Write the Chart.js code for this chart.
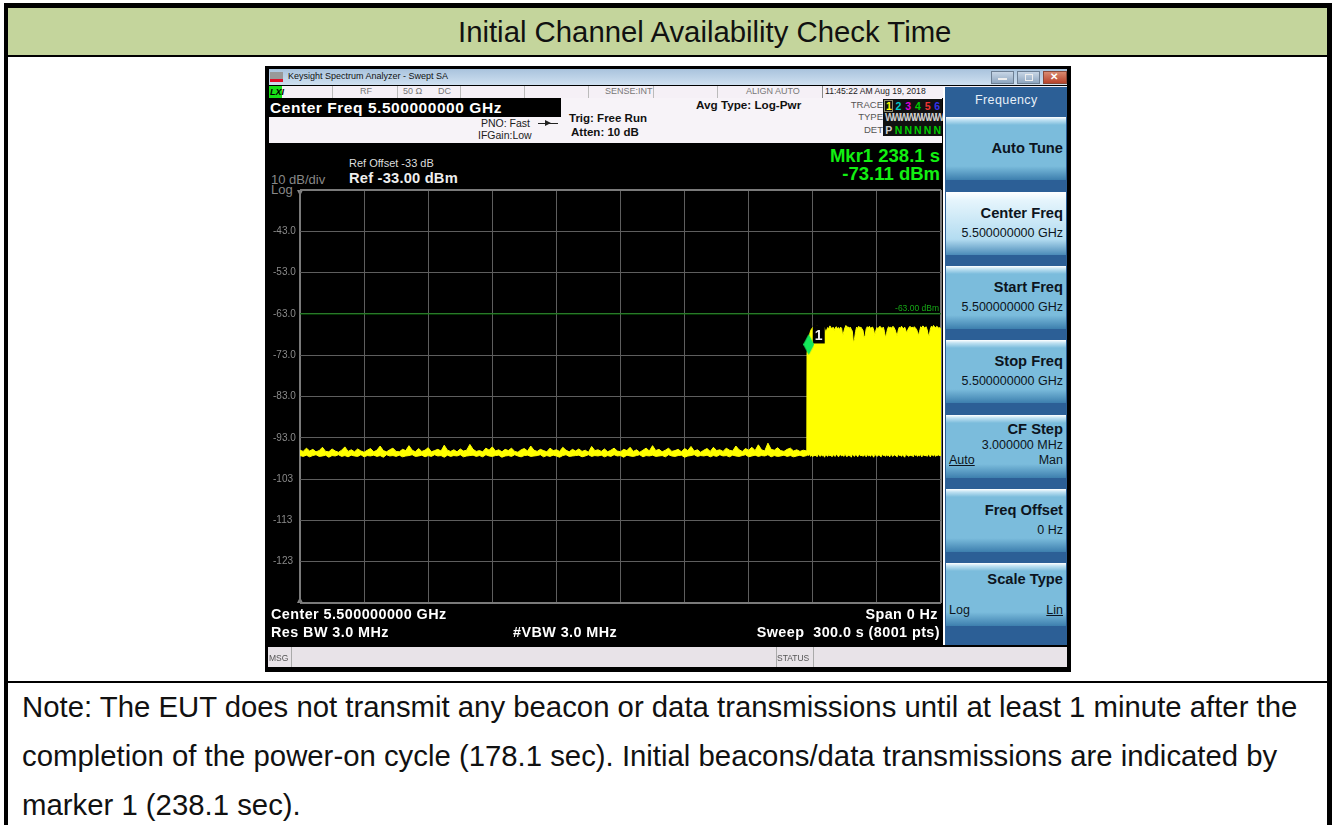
<!DOCTYPE html>
<html>
<head>
<meta charset="utf-8">
<title>Initial Channel Availability Check Time</title>
<script src="https://cdn.jsdelivr.net/npm/chart.js@4/dist/chart.umd.min.js"></script>
<style>
    html, body { margin: 0; padding: 0; background: #fff; }
    body { position: relative; width: 1335px; height: 825px; overflow: hidden; font-family: "Liberation Sans", Arial, sans-serif; }
    .box, .t { position: absolute; }
    .t { white-space: nowrap; line-height: 1; }
    .w { color: #fff; font-weight: bold; }
    .d { color: #111; font-weight: bold; }
    .g { color: #777; }
    .sc { font-size: 14.4px; letter-spacing: 0.42px; }
    .col span { display: inline-block; width: 9.7px; text-align: center; }
    .key { position: absolute; left: 946px; width: 120px; height: 63px; background: linear-gradient(#ffffff 0, #bfe1f2 3px, #7bbcdc 8px, #7bbcdc 78%, #3d7fae 100%); }
    .key.on { background: linear-gradient(#ffffff 0, #e6f5fc 8px, #b3dcf1 75%, #4b8bb8 100%); }
    .key b { position: absolute; right: 3px; top: 24px; font-size: 14.7px; color: #0c1420; white-space: nowrap; line-height: 1; }
    .key span { position: absolute; right: 3px; font-size: 12.5px; color: #0c1420; white-space: nowrap; line-height: 1; }
    #plotWrap { position: absolute; left: 268px; top: 180px; width: 680px; height: 435px; }
</style>
</head>
<body>
<!-- table around the capture -->
<div class="box" style="left:4px;top:3px;width:1328px;height:5px;background:#000"></div>
<div class="box" style="left:4px;top:3px;width:4px;height:822px;background:#000"></div>
<div class="box" style="left:1327px;top:3px;width:5px;height:822px;background:#000"></div>
<div class="box" style="left:8px;top:8px;width:1319px;height:47px;background:#c4d59c"></div>
<div class="box" style="left:4px;top:55px;width:1328px;height:2px;background:#000"></div>
<div class="box" style="left:4px;top:681px;width:1328px;height:2px;background:#000"></div>
<div class="t" style="left:458px;top:17px;font-size:29.33px;color:#111">Initial Channel Availability Check Time</div>
<div class="t" style="left:22px;top:692px;font-size:29.33px;color:#111">Note: The EUT does not transmit any beacon or data transmissions until at least 1 minute after the</div>
<div class="t" style="left:22px;top:741px;font-size:29.33px;color:#111">completion of the power-on cycle (178.1 sec). Initial beacons/data transmissions are indicated by</div>
<div class="t" style="left:22px;top:790px;font-size:29.33px;color:#111">marker 1 (238.1 sec).</div>

<!-- analyzer window -->
<div class="box" style="left:265px;top:66px;width:806px;height:606px;background:#000"></div>
<div class="box" style="left:269px;top:69px;width:798px;height:16px;background:linear-gradient(#a9c3dd,#cfe0f0)"></div>
<div class="box" style="left:270px;top:72px;width:13px;height:10px;background:linear-gradient(#999 0,#999 70%,#e0102a 70%)"></div>
<div class="t" style="left:288px;top:72px;font-size:9px;color:#111">Keysight Spectrum Analyzer - Swept SA</div>
<div class="box" style="left:991px;top:71px;width:23px;height:13px;background:linear-gradient(#c8d6e6,#8ea6c0);border:1px solid #6d7f94;box-sizing:border-box"></div>
<div class="box" style="left:998px;top:78px;width:9px;height:2px;background:#eee"></div>
<div class="box" style="left:1017px;top:71px;width:23px;height:13px;background:linear-gradient(#c8d6e6,#8ea6c0);border:1px solid #6d7f94;box-sizing:border-box"></div>
<div class="box" style="left:1025px;top:74px;width:6px;height:5px;border:1px solid #eee"></div>
<div class="box" style="left:1043px;top:71px;width:24px;height:13px;background:linear-gradient(#d98a70,#b8432c);border:1px solid #8b4a3a;box-sizing:border-box"></div>
<div class="t" style="left:1050px;top:72px;font-size:10px;font-weight:bold;color:#fff">✕</div>

<div class="box" style="left:269px;top:86px;width:798px;height:12px;background:#f5f0f6"></div>
<div class="box" style="left:269px;top:86px;width:13px;height:12px;background:#18e018"></div>
<div class="t" style="left:270px;top:88px;font-size:9px;font-weight:bold;font-style:italic;color:#000">LXI</div>
<div class="t g" style="left:360px;top:87px;font-size:9px">RF</div>
<div class="t g" style="left:403px;top:87px;font-size:9px">50 Ω</div>
<div class="t g" style="left:438px;top:87px;font-size:9px">DC</div>
<div class="t g" style="left:605px;top:87px;font-size:9px">SENSE:INT</div>
<div class="t g" style="left:746px;top:87px;font-size:9px">ALIGN AUTO</div>
<div class="t" style="left:825px;top:87px;font-size:8.6px;color:#222">11:45:22 AM Aug 19, 2018</div>
<div class="box" style="left:332px;top:86px;width:1px;height:12px;background:#bbb"></div>
<div class="box" style="left:397px;top:86px;width:1px;height:12px;background:#bbb"></div>
<div class="box" style="left:460px;top:86px;width:1px;height:12px;background:#bbb"></div>
<div class="box" style="left:524px;top:86px;width:1px;height:12px;background:#bbb"></div>
<div class="box" style="left:588px;top:86px;width:1px;height:12px;background:#bbb"></div>
<div class="box" style="left:653px;top:86px;width:1px;height:12px;background:#bbb"></div>
<div class="box" style="left:717px;top:86px;width:1px;height:12px;background:#bbb"></div>
<div class="box" style="left:822px;top:86px;width:1px;height:12px;background:#888"></div>

<div class="box" style="left:269px;top:98px;width:673px;height:45px;background:#f7f3f8"></div>
<div class="box" style="left:269px;top:98px;width:292px;height:19px;background:#000"></div>
<div class="t w" style="left:270px;top:100px;font-size:15.5px;letter-spacing:0.55px">Center Freq 5.500000000 GHz</div>
<div class="t" style="left:481px;top:118px;font-size:10.5px;color:#222">PNO: Fast</div>
<div class="t" style="left:478px;top:130px;font-size:10.5px;color:#222">IFGain:Low</div>
<div class="box" style="left:538px;top:123px;width:20px;height:1px;background:#222"></div>
<div class="box" style="left:545px;top:120px;border-left:6px solid #222;border-top:3px solid transparent;border-bottom:3px solid transparent"></div>
<div class="t d" style="left:569px;top:113px;font-size:11.5px">Trig: Free Run</div>
<div class="t d" style="left:571px;top:127px;font-size:11.5px">Atten: 10 dB</div>
<div class="t d" style="left:696px;top:99px;font-size:11.7px">Avg Type: Log-Pwr</div>
<div class="t" style="right:452px;top:100px;font-size:9.5px;color:#555">TRACE</div>
<div class="t" style="right:452px;top:112px;font-size:9.5px;color:#555">TYPE</div>
<div class="t" style="right:452px;top:125px;font-size:9.5px;color:#555">DET</div>
<div class="box" style="left:883px;top:99px;width:59px;height:37px;background:#111"></div>
<div class="box" style="left:884px;top:100px;width:9px;height:12px;border:1px solid #8a8a70;box-sizing:border-box"></div>
<div class="t col" style="left:884px;top:101px;font-size:10.5px;font-weight:bold"><span style="color:#ff0">1</span><span style="color:#0cc">2</span><span style="color:#d0d">3</span><span style="color:#0c0">4</span><span style="color:#e33">5</span><span style="color:#33e">6</span></div>
<div class="t" style="left:885px;top:113px;font-size:10px;font-weight:bold;color:#ccc;letter-spacing:-2.3px">WWWWWWWW</div>
<div class="t col" style="left:884px;top:125px;font-size:10.5px;font-weight:bold;color:#0c0"><span style="color:#ccc">P</span><span>N</span><span>N</span><span>N</span><span>N</span><span>N</span></div>

<div class="t" style="left:349px;top:158px;font-size:11px;color:#ddd">Ref Offset -33 dB</div>
<div class="t w" style="left:349px;top:171px;font-size:14.7px;letter-spacing:0.2px;color:#eee">Ref -33.00 dBm</div>
<div class="t" style="left:271px;top:173px;font-size:13px;color:#888">10 dB/div</div>
<div class="t" style="left:271px;top:183px;font-size:13px;color:#888">Log</div>
<div class="box" style="left:297px;top:190px;border-top:6px solid #888;border-left:3px solid transparent;border-right:3px solid transparent"></div>
<div class="box" style="left:297px;top:597px;border-bottom:6px solid #888;border-left:3px solid transparent;border-right:3px solid transparent"></div>
<div class="t" style="right:395px;top:147px;font-size:18.5px;font-weight:bold;color:#12f012">Mkr1 238.1 s</div>
<div class="t" style="right:395px;top:165px;font-size:18.5px;font-weight:bold;color:#12f012">-73.11 dBm</div>

<div id="plotWrap"><canvas id="scanChart" width="680" height="435"></canvas></div>

<div class="t w sc" style="left:271px;top:607px">Center 5.500000000 GHz</div>
<div class="t w sc" style="left:271px;top:625px">Res BW 3.0 MHz</div>
<div class="t w sc" style="left:513px;top:625px">#VBW 3.0 MHz</div>
<div class="t w sc" style="right:397px;top:607px">Span 0 Hz</div>
<div class="t w sc" style="right:395px;top:625px">Sweep &nbsp;300.0 s (8001 pts)</div>

<!-- softkeys -->
<div class="box" style="left:943px;top:87px;width:2px;height:558px;background:#fff"></div>
<div class="box" style="left:945px;top:87px;width:122px;height:558px;background:#2c5f96"></div>
<div class="t" style="left:975px;top:94px;font-size:12.5px;letter-spacing:0.4px;color:#e8f0f8">Frequency</div>
<div class="key" style="top:117px"><b>Auto Tune</b></div>
<div class="key on" style="top:192px"><b style="top:14px">Center Freq</b><span style="top:35px">5.500000000 GHz</span></div>
<div class="key" style="top:266px"><b style="top:14px">Start Freq</b><span style="top:35px">5.500000000 GHz</span></div>
<div class="key" style="top:340px"><b style="top:14px">Stop Freq</b><span style="top:35px">5.500000000 GHz</span></div>
<div class="key" style="top:415px"><b style="top:7px">CF Step</b><span style="top:24px">3.000000 MHz</span><span style="top:39px;left:3px;right:auto;text-decoration:underline">Auto</span><span style="top:39px">Man</span></div>
<div class="key" style="top:489px"><b style="top:14px">Freq Offset</b><span style="top:35px">0 Hz</span></div>
<div class="key" style="top:563px"><b style="top:9px">Scale Type</b><span style="top:41px;left:3px;right:auto">Log</span><span style="top:41px;text-decoration:underline">Lin</span></div>

<!-- message bar -->
<div class="box" style="left:268px;top:647px;width:799px;height:20px;background:#e8e3e8"></div>
<div class="box" style="left:291px;top:647px;width:1px;height:20px;background:#aaa"></div>
<div class="box" style="left:776px;top:647px;width:1px;height:20px;background:#aaa"></div>
<div class="box" style="left:813px;top:647px;width:1px;height:20px;background:#aaa"></div>
<div class="t" style="left:269px;top:654px;font-size:8.5px;color:#555">MSG</div>
<div class="t" style="left:777px;top:654px;font-size:8.5px;color:#555">STATUS</div>

<script>
    // y ticks of the screen, 10 dB/div down from the reference level
    const yTicks = [-33, -43, -53, -63, -73, -83, -93, -103, -113, -123, -133];
    const xTicks = [0, 30, 60, 90, 120, 150, 180, 210, 240, 270, 300];

    // noise floor before the first beacon (seconds, upper and lower edge of the trace in dBm)
    const noiseTimes = [0,1.5,3,4.5,6,7.5,9,10.5,12,13.5,15,16.5,18,19.5,21,22.5,24,25.5,27,28.5,
        30,31.5,33,34.5,36,37.5,39,40.5,42,43.5,45,46.5,48,49.5,51,52.5,54,55.5,57,58.5,
        60,61.5,63,64.5,66,67.5,69,70.5,72,73.5,75,76.5,78,79.5,81,82.5,84,85.5,87,88.5,
        90,91.5,93,94.5,96,97.5,99,100.5,102,103.5,105,106.5,108,109.5,111,112.5,114,115.5,117,118.5,
        120,121.5,123,124.5,126,127.5,129,130.5,132,133.5,135,136.5,138,139.5,141,142.5,144,145.5,147,148.5,
        150,151.5,153,154.5,156,157.5,159,160.5,162,163.5,165,166.5,168,169.5,171,172.5,174,175.5,177,178.5,
        180,181.5,183,184.5,186,187.5,189,190.5,192,193.5,195,196.5,198,199.5,201,202.5,204,205.5,207,208.5,
        210,211.5,213,214.5,216,217.5,219,220.5,222,223.5,225,226.5,228,229.5,231,232.5,234,235.5,237.2];
    const noiseHigh = [-96.0,-96.3,-95.5,-96.2,-95.8,-96.4,-96.1,-95.3,-96.3,-96.4,-95.7,-96.2,-96.5,-96.0,-95.2,-96.3,-95.9,-96.4,-95.7,-96.2,
        -96.5,-96.0,-95.6,-96.4,-96.0,-95.0,-96.1,-96.4,-95.9,-95.5,-96.3,-96.4,-95.8,-96.1,-94.9,-96.0,-96.4,-95.6,-96.3,-96.0,
        -95.4,-96.4,-96.1,-95.8,-96.2,-94.8,-96.0,-96.3,-95.9,-96.4,-95.7,-96.2,-96.0,-94.6,-95.8,-96.3,-96.1,-96.4,-95.5,-96.0,
        -95.2,-96.2,-95.9,-96.4,-95.8,-96.1,-95.5,-96.3,-96.5,-95.9,-95.6,-96.2,-95.0,-96.0,-96.3,-95.8,-96.1,-96.4,-95.5,-96.1,
        -95.9,-96.3,-95.3,-96.0,-96.4,-95.8,-96.2,-95.7,-96.3,-96.0,-96.5,-95.1,-96.1,-95.9,-96.3,-95.7,-96.4,-96.0,-95.5,-96.2,
        -96.4,-95.8,-96.1,-95.3,-96.3,-95.9,-96.5,-96.0,-95.5,-96.2,-94.9,-96.1,-95.8,-96.4,-96.0,-95.5,-96.3,-96.1,-95.8,-96.4,
        -95.6,-96.1,-95.1,-96.2,-95.9,-96.5,-96.0,-95.6,-96.3,-95.3,-96.1,-95.9,-96.3,-95.5,-96.0,-96.2,-95.0,-95.9,-96.3,-95.6,
        -96.0,-95.3,-96.1,-94.7,-95.9,-96.2,-94.3,-95.8,-96.0,-95.4,-96.1,-96.3,-95.8,-95.5,-96.2,-95.9,-96.3,-96.0,-96.2];
    const noiseLow = [-97.3,-97.5,-97.2,-97.6,-97.3,-97.1,-97.5,-97.4,-97.2,-97.7,-97.3,-97.4,-97.1,-97.5,-97.3,-97.6,-97.2,-97.4,-97.5,-97.1,
        -97.6,-97.3,-97.4,-97.2,-97.5,-97.3,-97.7,-97.1,-97.4,-97.3,-97.5,-97.2,-97.6,-97.4,-97.3,-97.1,-97.5,-97.4,-97.2,-97.6,
        -97.3,-97.5,-97.1,-97.4,-97.3,-97.7,-97.2,-97.5,-97.3,-97.4,-97.1,-97.6,-97.4,-97.3,-97.2,-97.5,-97.3,-97.6,-97.1,-97.4,
        -97.5,-97.3,-97.2,-97.7,-97.4,-97.3,-97.5,-97.1,-97.4,-97.6,-97.3,-97.2,-97.5,-97.4,-97.3,-97.1,-97.6,-97.3,-97.5,-97.2,
        -97.4,-97.7,-97.3,-97.1,-97.5,-97.4,-97.3,-97.2,-97.6,-97.4,-97.1,-97.5,-97.3,-97.4,-97.2,-97.6,-97.3,-97.5,-97.1,-97.4,
        -97.3,-97.7,-97.2,-97.4,-97.5,-97.3,-97.1,-97.6,-97.3,-97.4,-97.2,-97.5,-97.4,-97.3,-97.6,-97.1,-97.4,-97.5,-97.3,-97.2,
        -97.7,-97.4,-97.3,-97.1,-97.5,-97.3,-97.4,-97.2,-97.6,-97.3,-97.5,-97.1,-97.4,-97.3,-97.6,-97.2,-97.4,-97.5,-97.3,-97.1,
        -97.6,-97.4,-97.2,-97.5,-97.3,-97.4,-97.1,-97.6,-97.3,-97.5,-97.4,-97.2,-97.5,-97.3,-97.6,-97.4,-97.2,-97.5,-97.3];

    // beacons and data after marker 1, same three columns
    const burstTimes = [237.3,238,238.5,239,239.5,240,240.5,241,241.5,242,242.5,243,243.5,244,244.5,245,245.5,246,246.5,247,247.5,248,248.5,249,249.5,250,250.5,251,251.5,252,252.5,253,253.5,254,254.5,255,255.5,256,256.5,257,257.5,258,258.5,259,259.5,260,260.5,261,261.5,262,262.5,263,263.5,264,264.5,265,265.5,266,266.5,267,267.5,268,268.5,269,269.5,270,270.5,271,271.5,272,272.5,273,273.5,274,274.5,275,275.5,276,276.5,277,277.5,278,278.5,279,279.5,280,280.5,281,281.5,282,282.5,283,283.5,284,284.5,285,285.5,286,286.5,287,287.5,288,288.5,289,289.5,290,290.5,291,291.5,292,292.5,293,293.5,294,294.5,295,295.5,296,296.5,297,297.5,298,298.5,299,299.5,300];
    const burstHigh = [-72.5,-70.4,-68.0,-67.0,-66.6,-66.2,-66.7,-66.3,-66.6,-65.9,-66.5,-66.2,-66.8,-66.4,-66.7,-66.1,-66.5,-67.3,-66.9,-66.3,-66.6,-65.9,-66.3,-66.7,-66.2,-67.0,-66.4,-66.1,-66.6,-66.3,-66.8,-66.2,-66.5,-68.4,-67.3,-66.4,-65.8,-66.3,-66.1,-66.5,-66.2,-66.7,-67.2,-70.0,-69.2,-67.3,-66.2,-66.5,-66.0,-66.4,-66.2,-66.6,-67.0,-68.8,-68.2,-66.6,-66.1,-66.4,-66.0,-66.5,-66.3,-66.2,-66.9,-68.2,-67.0,-66.3,-66.6,-66.2,-66.0,-66.4,-66.5,-66.2,-67.2,-68.8,-67.8,-66.6,-66.1,-66.4,-66.2,-66.5,-66.0,-66.3,-66.8,-67.6,-68.4,-66.9,-66.2,-66.5,-66.0,-66.3,-66.6,-66.2,-66.9,-67.7,-66.8,-66.3,-66.0,-66.4,-66.2,-66.5,-66.1,-66.4,-66.7,-67.3,-68.3,-67.2,-66.1,-66.4,-65.9,-66.2,-66.5,-66.1,-66.8,-68.0,-68.2,-66.7,-66.0,-66.3,-65.8,-66.1,-66.4,-66.0,-66.2,-66.5,-66.3,-66.6];
    const burstLow = [-97.1,-97.3,-97.0,-97.5,-97.2,-97.6,-97.1,-97.4,-97.2,-97.6,-97.0,-97.3,-97.5,-97.1,-97.4,-97.2,-97.7,-97.1,-97.3,-97.5,-97.0,-97.4,-97.2,-97.6,-97.1,-97.3,-97.5,-97.0,-97.2,-97.6,-97.3,-97.1,-97.4,-97.2,-97.5,-97.0,-97.3,-97.6,-97.1,-97.4,-97.2,-97.7,-97.0,-97.3,-97.5,-97.1,-97.2,-97.6,-97.3,-97.0,-97.4,-97.2,-97.5,-97.1,-97.3,-97.6,-97.0,-97.4,-97.2,-97.5,-97.1,-97.3,-97.7,-97.0,-97.2,-97.5,-97.3,-97.1,-97.4,-97.6,-97.0,-97.3,-97.2,-97.5,-97.1,-97.4,-97.2,-97.6,-97.0,-97.3,-97.5,-97.1,-97.2,-97.4,-97.6,-97.0,-97.3,-97.2,-97.5,-97.1,-97.4,-97.7,-97.0,-97.2,-97.3,-97.5,-97.1,-97.4,-97.2,-97.6,-97.0,-97.3,-97.1,-97.5,-97.2,-97.4,-97.0,-97.6,-97.3,-97.1,-97.4,-97.2,-97.5,-97.0,-97.3,-97.6,-97.1,-97.2,-97.4,-97.0,-97.5,-97.2,-97.3,-97.1,-97.4,-97.2];

    const limitTimes = [0, 300];
    const limitLevel = [-63, -63];
    const markerTimes = [238.1];
    const markerLevels = [-70.4];

    const GRID_COLOR = "#5e5e5e";
    const EDGE_COLOR = "#7a7a7a";

    function toPoints(xs, ys) {
        return xs.map((x, i) => ({ x: x, y: ys[i] }));
    }

    // tall diamond, the analyzer's marker is not square so rectRot won't do
    function makeDiamond() {
        const c = document.createElement("canvas");
        c.width = 11;
        c.height = 21;
        const g = c.getContext("2d");
        g.fillStyle = "#14e85a";
        g.beginPath();
        g.moveTo(5.5, 0);
        g.lineTo(11, 10.5);
        g.lineTo(5.5, 21);
        g.lineTo(0, 10.5);
        g.closePath();
        g.fill();
        return c;
    }

    // texts which sit inside the plot: marker number and the limit line value
    const screenLabels = {
        id: "screenLabels",
        beforeDatasetDraw(chart, args) {
            // number box goes under the diamond, over the trace
            if (args.index !== 0) return;
            const { ctx, scales } = chart;
            const mx = scales.x.getPixelForValue(markerTimes[0]);
            const my = scales.y.getPixelForValue(markerLevels[0]);
            ctx.save();
            ctx.fillStyle = "#000";
            ctx.fillRect(mx + 4, my - 19, 12, 18);
            ctx.fillStyle = "#eee";
            ctx.font = "bold 14px 'Liberation Sans'";
            ctx.textAlign = "center";
            ctx.textBaseline = "middle";
            ctx.fillText("1", mx + 10, my - 8);
            ctx.fillStyle = "#16a816";
            ctx.font = "8.5px 'Liberation Sans'";
            ctx.textAlign = "right";
            ctx.textBaseline = "bottom";
            ctx.fillText("-63.00 dBm", scales.x.right - 2, scales.y.getPixelForValue(limitLevel[0]) - 1);
            ctx.restore();
        }
    };

    function drawScan() {
        const ctx = document.getElementById("scanChart");
        new Chart(ctx, {
            type: "line",
            data: {
                datasets: [
                    {
                        label: "Marker 1",
                        data: toPoints(markerTimes, markerLevels),
                        showLine: false,
                        pointStyle: makeDiamond(),
                        order: 0
                    },
                    {
                        label: "Display line",
                        data: toPoints(limitTimes, limitLevel),
                        borderColor: "#0b8a0b",
                        borderWidth: 1,
                        pointRadius: 0,
                        order: 1
                    },
                    {
                        label: "Trace high",
                        data: toPoints(noiseTimes.concat(burstTimes), noiseHigh.concat(burstHigh)),
                        borderColor: "#ffff00",
                        backgroundColor: "#ffff00",
                        borderWidth: 1,
                        borderJoinStyle: "bevel",
                        pointRadius: 0,
                        tension: 0,
                        fill: "+1",
                        order: 2
                    },
                    {
                        label: "Trace low",
                        data: toPoints(noiseTimes.concat(burstTimes), noiseLow.concat(burstLow)),
                        borderColor: "#ffff00",
                        borderWidth: 1,
                        borderJoinStyle: "bevel",
                        pointRadius: 0,
                        tension: 0,
                        order: 3
                    }
                ]
            },
            options: {
                responsive: false,
                animation: false,
                devicePixelRatio: 1,
                layout: { padding: { left: 5, right: 7, top: 10, bottom: 12 } },
                plugins: { legend: { display: false }, tooltip: { enabled: false } },
                scales: {
                    x: {
                        type: "linear",
                        min: 0,
                        max: 300,
                        afterBuildTicks: axis => { axis.ticks = xTicks.map(v => ({ value: v })); },
                        afterFit: axis => { axis.height = 0; },
                        ticks: { display: false },
                        border: { display: false },
                        grid: {
                            drawTicks: false,
                            color: c => (c.index === 0 || c.index === xTicks.length - 1) ? EDGE_COLOR : GRID_COLOR,
                            lineWidth: c => (c.index === 0 || c.index === xTicks.length - 1) ? 2 : 1
                        }
                    },
                    y: {
                        min: -133,
                        max: -33,
                        afterBuildTicks: axis => { axis.ticks = yTicks.map(v => ({ value: v })); },
                        afterFit: axis => { axis.width = 27; },
                        border: { display: false },
                        grid: {
                            drawTicks: false,
                            color: c => (c.index === 0 || c.index === yTicks.length - 1) ? EDGE_COLOR : GRID_COLOR,
                            lineWidth: c => (c.index === 0 || c.index === yTicks.length - 1) ? 2 : 1
                        },
                        ticks: {
                            color: "#8a8a8a",
                            font: { family: "Liberation Sans", size: 10 },
                            crossAlign: "far",
                            // the screen drops the decimal once the label has three digits
                            callback: v => (v === -33 || v === -133) ? "" : (v <= -100 ? String(v) : v.toFixed(1))
                        }
                    }
                }
            },
            plugins: [screenLabels]
        });
    }

    drawScan();
</script>
</body>
</html>
